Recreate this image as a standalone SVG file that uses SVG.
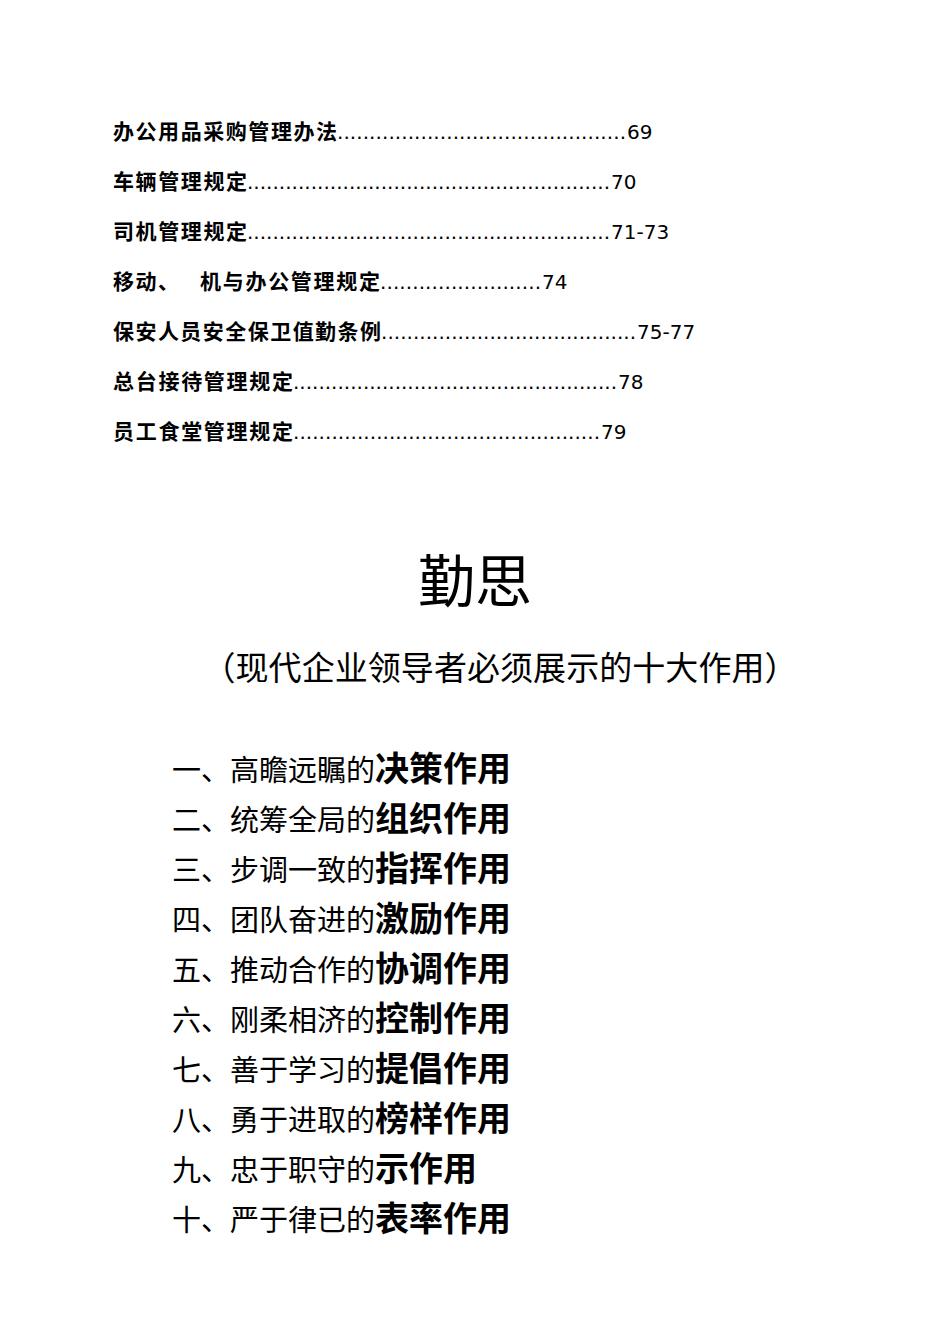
<svg xmlns="http://www.w3.org/2000/svg" width="950" height="1344" viewBox="0 0 950 1344">
<style>
text{font-family:"Noto Sans CJK SC","DejaVu Sans",sans-serif;fill:#000}
.t{font-size:21px;font-weight:bold}
.d{font-family:"DejaVu Sans",sans-serif;font-size:20px}
.l{font-size:29px}
.b{font-size:34px;font-weight:bold}
</style>
<rect width="950" height="1344" fill="#fff"/>
<g id="toc">
<text class="t" x="113" y="139" textLength="224">办公用品采购管理办法</text>
<text class="d" x="337" y="139" textLength="289" lengthAdjust="spacing">.............................................</text>
<text class="d" x="627" y="139">69</text>
<text class="t" x="113" y="189" textLength="134">车辆管理规定</text>
<text class="d" x="247" y="189" textLength="363" lengthAdjust="spacing">.........................................................</text>
<text class="d" x="611" y="189">70</text>
<text class="t" x="113" y="239" textLength="134">司机管理规定</text>
<text class="d" x="247" y="239" textLength="363" lengthAdjust="spacing">.........................................................</text>
<text class="d" x="611" y="239">71-73</text>
<text class="t" x="113" y="289" textLength="66">移动、</text>
<text class="t" x="200" y="289" textLength="180">机与办公管理规定</text>
<text class="d" x="380" y="289" textLength="161" lengthAdjust="spacing">.........................</text>
<text class="d" x="542" y="289">74</text>
<text class="t" x="113" y="339" textLength="268">保安人员安全保卫值勤条例</text>
<text class="d" x="381" y="339" textLength="255" lengthAdjust="spacing">........................................</text>
<text class="d" x="637" y="339">75-77</text>
<text class="t" x="113" y="389" textLength="180">总台接待管理规定</text>
<text class="d" x="293" y="389" textLength="324" lengthAdjust="spacing">...................................................</text>
<text class="d" x="618" y="389">78</text>
<text class="t" x="113" y="439" textLength="180">员工食堂管理规定</text>
<text class="d" x="293" y="439" textLength="307" lengthAdjust="spacing">................................................</text>
<text class="d" x="601" y="439">79</text>
</g>
<g id="title">
<text x="475" y="602" font-size="57" text-anchor="middle">勤思</text>
<text x="500" y="680" font-size="33" text-anchor="middle" textLength="595">（现代企业领导者必须展示的十大作用）</text>
</g>
<g id="list">
<text x="172" y="781"><tspan class="l">一、高瞻远瞩的</tspan><tspan class="b">决策作用</tspan></text>
<text x="172" y="831"><tspan class="l">二、统筹全局的</tspan><tspan class="b">组织作用</tspan></text>
<text x="172" y="881"><tspan class="l">三、步调一致的</tspan><tspan class="b">指挥作用</tspan></text>
<text x="172" y="931"><tspan class="l">四、团队奋进的</tspan><tspan class="b">激励作用</tspan></text>
<text x="172" y="981"><tspan class="l">五、推动合作的</tspan><tspan class="b">协调作用</tspan></text>
<text x="172" y="1031"><tspan class="l">六、刚柔相济的</tspan><tspan class="b">控制作用</tspan></text>
<text x="172" y="1081"><tspan class="l">七、善于学习的</tspan><tspan class="b">提倡作用</tspan></text>
<text x="172" y="1131"><tspan class="l">八、勇于进取的</tspan><tspan class="b">榜样作用</tspan></text>
<text x="172" y="1181"><tspan class="l">九、忠于职守的</tspan><tspan class="b">示作用</tspan></text>
<text x="172" y="1231"><tspan class="l">十、严于律已的</tspan><tspan class="b">表率作用</tspan></text>
</g>
</svg>
